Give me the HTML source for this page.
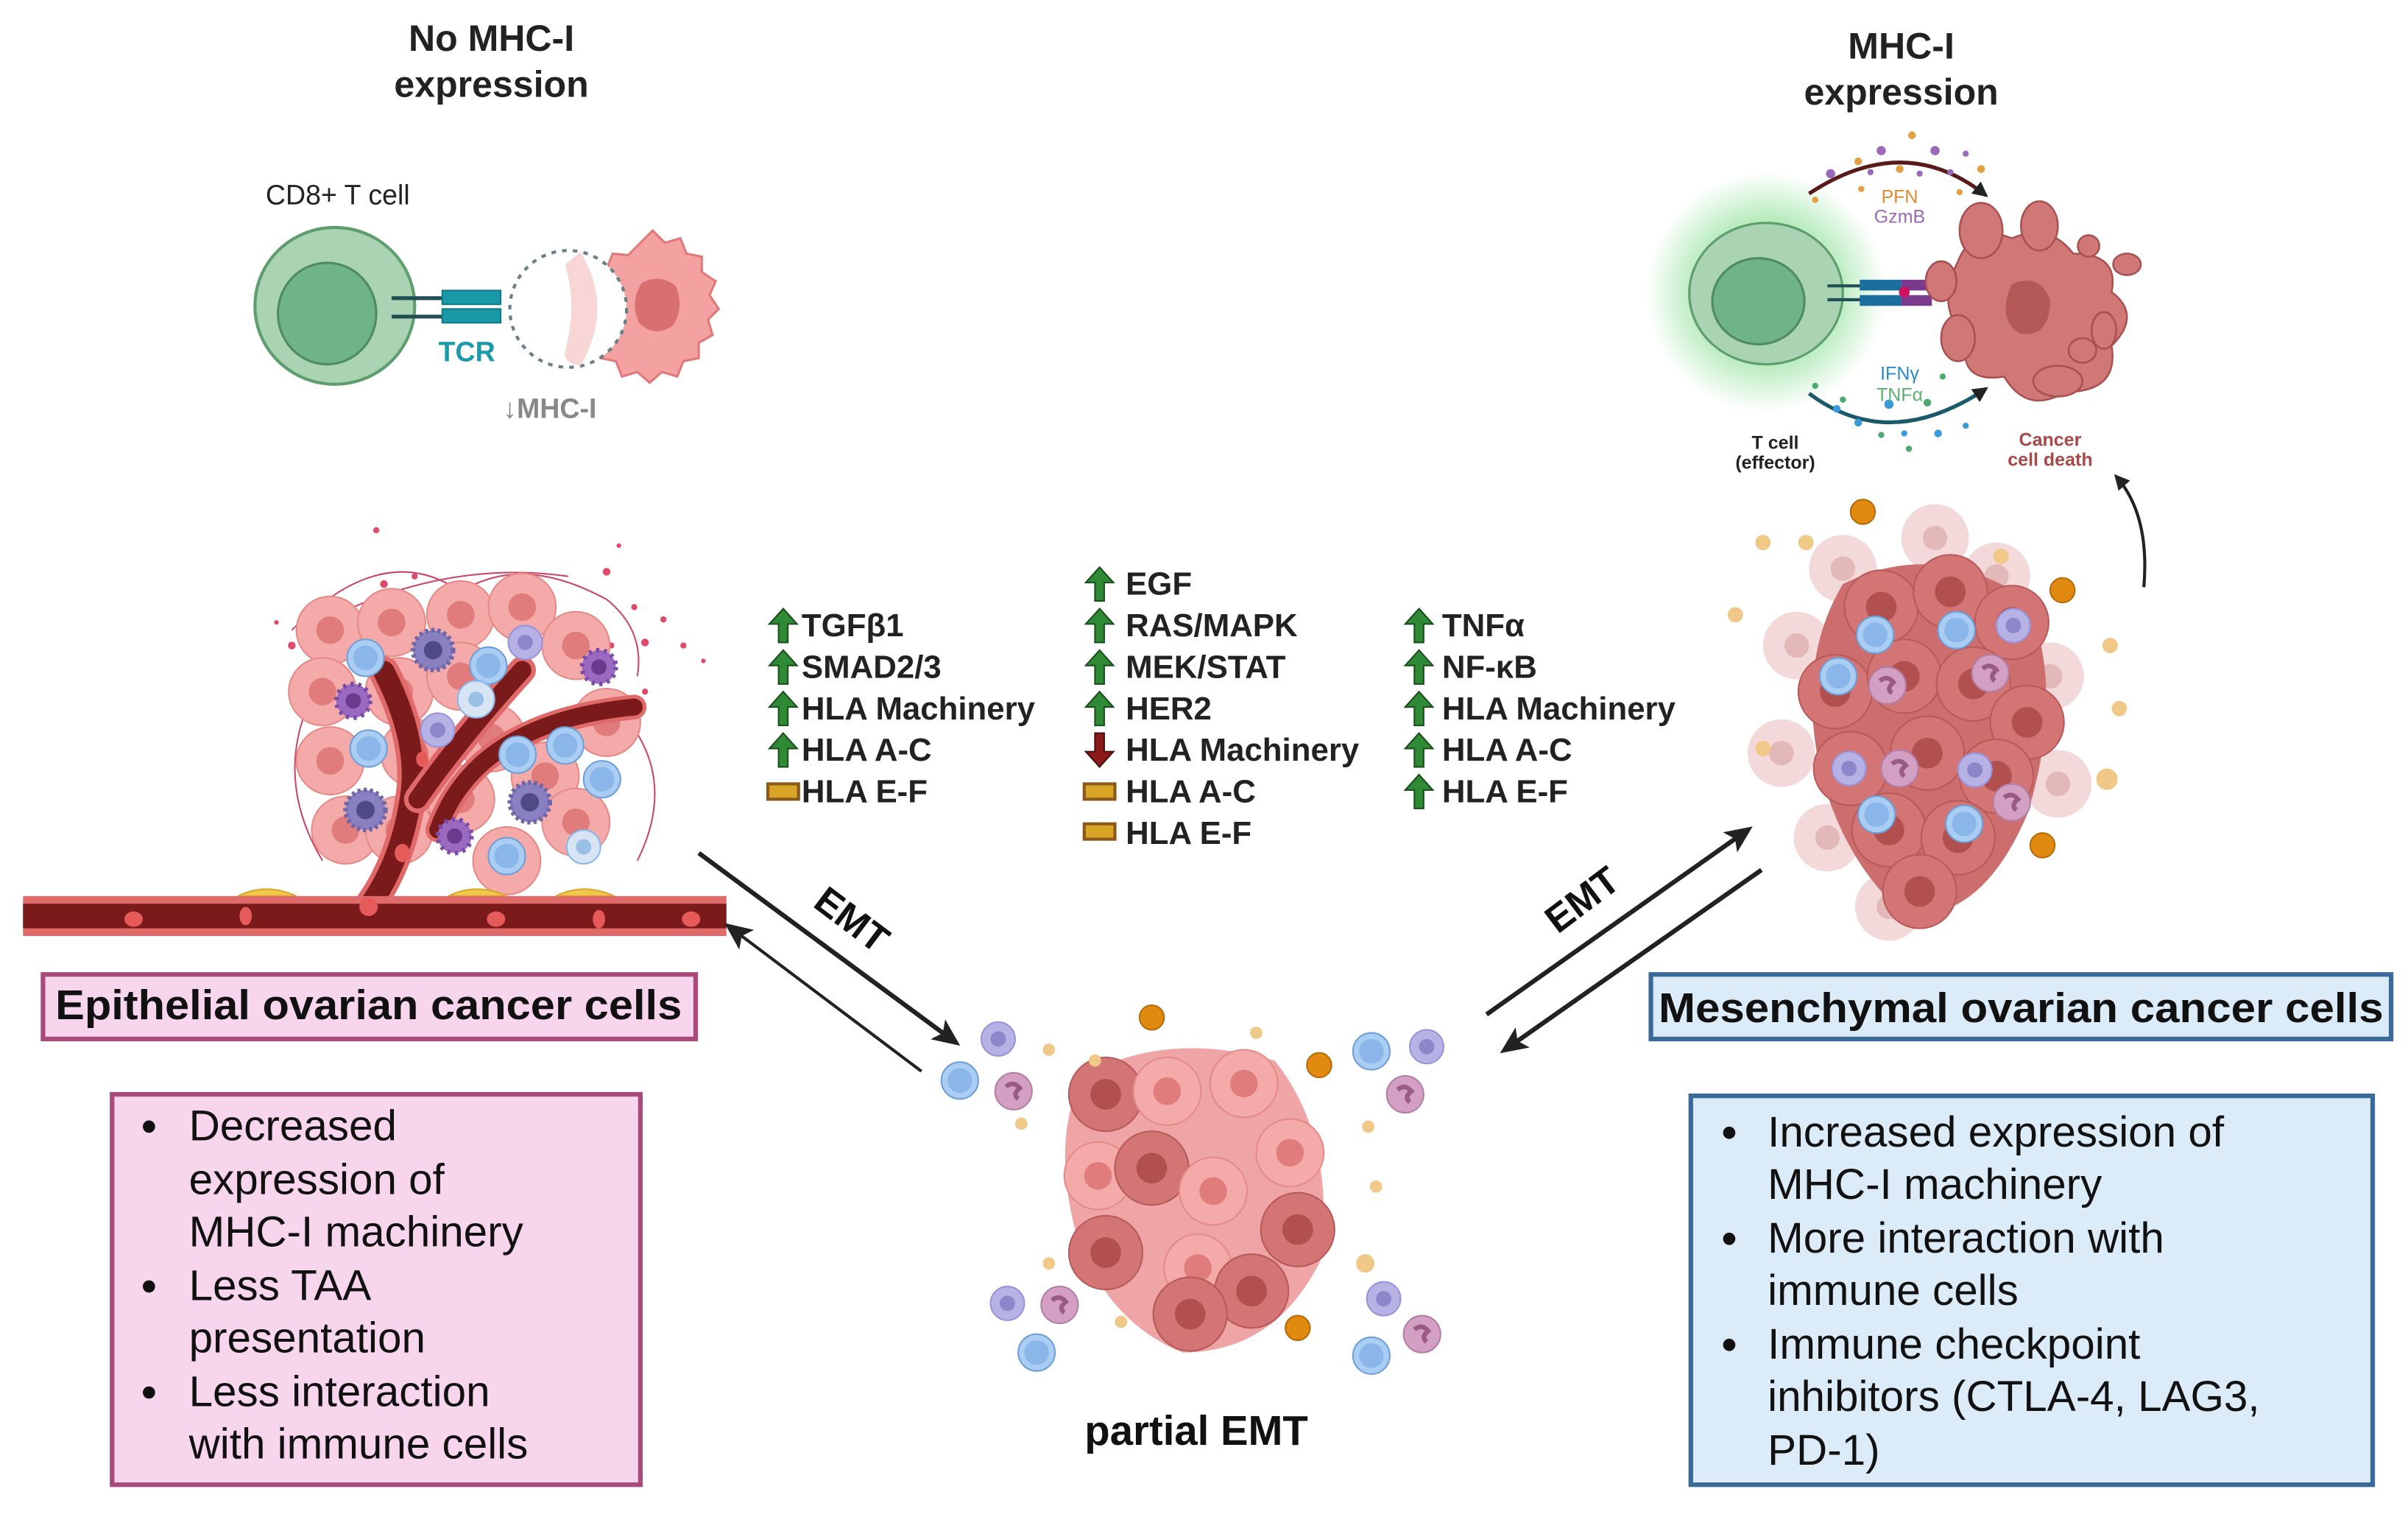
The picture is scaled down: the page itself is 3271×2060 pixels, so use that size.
<!DOCTYPE html>
<html><head><meta charset="utf-8"><style>
html,body{margin:0;padding:0;background:#fff;}
svg{display:block;}
text{font-family:"Liberation Sans",sans-serif;}
</style></head><body>
<svg width="3271" height="2060" viewBox="0 0 1568 987" preserveAspectRatio="none" xmlns="http://www.w3.org/2000/svg">
<defs>
<g id="up"><path d="M0,-11 L9,-1 L3,-1 L3,11 L-3,11 L-3,-1 L-9,-1 Z" fill="#2f8a35" stroke="#1b4d1e" stroke-width="1"/></g>
<g id="dn"><path d="M0,11 L9,1 L3,1 L3,-11 L-3,-11 L-3,1 L-9,1 Z" fill="#8b1a1a" stroke="#4d0d0d" stroke-width="1"/></g>
<g id="eq"><rect x="-10" y="-5" width="20" height="10" fill="#d9a526" stroke="#8b5a1a" stroke-width="2"/></g>
<g id="pc"><circle r="22" fill="#f4aaa8" stroke="#e58a88" stroke-width="1"/><circle r="9" fill="#e07c7c"/></g>
<g id="rc"><circle r="24" fill="#d47575" stroke="#b85a5a" stroke-width="1"/><circle r="10" fill="#b24f4f"/></g>
<g id="lc"><circle r="22" fill="#f0d0d0" opacity="0.8"/><circle r="8" fill="#e3b8b8"/></g>
<g id="bc"><circle r="12" fill="#a9cdf3" stroke="#6f9fd6" stroke-width="1"/><circle r="8" fill="#8bb6ea"/></g>
<g id="vc"><circle r="11" fill="#b7b2e6" stroke="#9a93d8" stroke-width="1"/><circle r="5" fill="#8d86c9"/></g>
<g id="nc"><circle r="12" fill="#d3a0c3" stroke="#b37ea5" stroke-width="1"/><path d="M-5,-3 Q0,-7 4,-2 Q-1,2 3,5" fill="none" stroke="#9a5a86" stroke-width="3"/></g>
<g id="sp"><circle r="13" fill="#8880c0" stroke="#6d65a8" stroke-width="3" stroke-dasharray="2 2"/><circle r="6" fill="#4f4a86"/></g>
<g id="pp"><circle r="11" fill="#9a6ac0" stroke="#7a4aa8" stroke-width="3" stroke-dasharray="2 3"/><circle r="5" fill="#6a3a8e"/></g>
<marker id="ah" markerWidth="10" markerHeight="10" refX="8" refY="5" orient="auto" markerUnits="userSpaceOnUse"><path d="M0,0 L10,5 L0,10 Z" fill="#222"/></marker>
<marker id="ah2" markerWidth="18" markerHeight="16" refX="14" refY="8" orient="auto" markerUnits="userSpaceOnUse"><path d="M0,0 L18,8 L0,16 L4,8 Z" fill="#222"/></marker>
<radialGradient id="glow"><stop offset="0.5" stop-color="#7fdc8a" stop-opacity="0.7"/><stop offset="1" stop-color="#7fdc8a" stop-opacity="0"/></radialGradient>
</defs>

<text x="320" y="33" font-size="24" font-weight="bold" text-anchor="middle" fill="#222">No MHC-I</text>
<text x="320" y="63" font-size="24" font-weight="bold" text-anchor="middle" fill="#222">expression</text>
<text x="173" y="133" font-size="18" fill="#222">CD8+ T cell</text>
<ellipse cx="218" cy="199" rx="52" ry="51" fill="#a9d3b2" stroke="#5e9d6c" stroke-width="2"/>
<ellipse cx="213" cy="204" rx="32" ry="33" fill="#6fb38a" stroke="#4e8a62" stroke-width="1.5"/>
<line x1="255" y1="194" x2="292" y2="194" stroke="#1f4f55" stroke-width="2.5"/>
<line x1="255" y1="206" x2="292" y2="206" stroke="#1f4f55" stroke-width="2.5"/>
<rect x="288" y="189" width="38" height="9" fill="#1a9aa8" stroke="#127a86"/>
<rect x="288" y="201" width="38" height="9" fill="#1a9aa8" stroke="#127a86"/>
<path d="M425,150 l8,8 l10,-3 l4,10 l10,2 l0,10 l9,6 l-4,9 l6,9 l-7,7 l3,10 l-9,5 l0,10 l-10,2 l-4,10 l-10,-3 l-8,7 l-8,-7 l-10,3 l-4,-10 l-10,-2 l-2,-10 l-8,-6 l4,-10 l-4,-10 l6,-8 l-1,-10 l9,-4 l4,-10 l10,1 Z" fill="#f4a1a1" stroke="#e07a7a" stroke-width="1.5"/>
<path d="M418,184 q12,-6 22,2 q6,14 -2,26 q-12,8 -22,-2 q-6,-14 2,-26Z" fill="#d87070"/>
<circle cx="370" cy="201" r="38" fill="#fff" stroke="#6a7f88" stroke-width="2" stroke-dasharray="3 4"/>
<path d="M378,164 q22,36 0,74 q-12,-2 -10,-10 q8,-28 0,-56 Z" fill="#f8d2d2" opacity="0.9"/>
<text x="304" y="235" font-size="18" font-weight="bold" text-anchor="middle" fill="#1a9aa8">TCR</text>
<text x="358" y="272" font-size="18" font-weight="bold" text-anchor="middle" fill="#888">↓MHC-I</text>

<text x="1238" y="38" font-size="24" font-weight="bold" text-anchor="middle" fill="#222">MHC-I</text>
<text x="1238" y="68" font-size="24" font-weight="bold" text-anchor="middle" fill="#222">expression</text>
<circle cx="1150" cy="190" r="78" fill="url(#glow)"/>
<ellipse cx="1150" cy="191" rx="50" ry="46" fill="#a9d3b2" stroke="#5e9d6c" stroke-width="1.5"/>
<ellipse cx="1145" cy="196" rx="30" ry="28" fill="#6fb38a" stroke="#4e8a62" stroke-width="1.5"/>
<line x1="1190" y1="186" x2="1215" y2="186" stroke="#1f4f55" stroke-width="2"/>
<line x1="1190" y1="195" x2="1215" y2="195" stroke="#1f4f55" stroke-width="2"/>
<rect x="1211" y="182" width="27" height="7" fill="#1a6f9e"/><rect x="1211" y="192" width="27" height="7" fill="#1a6f9e"/>
<rect x="1238" y="182" width="20" height="7" fill="#7a3a8e"/><rect x="1238" y="192" width="20" height="7" fill="#7a3a8e"/>
<circle cx="1240" cy="190" r="3.5" fill="#d0105a"/>
<g fill="#d07878" stroke="#a85050" stroke-width="1.2">
<path d="M1275,170 q10,-25 35,-15 q25,-10 40,10 q30,0 25,25 q20,15 0,35 q5,30 -30,30 q-25,15 -40,-10 q-30,5 -25,-25 q-20,-20 -5,-50Z"/>
<ellipse cx="1290" cy="150" rx="14" ry="18"/><ellipse cx="1328" cy="147" rx="12" ry="16"/>
<ellipse cx="1264" cy="183" rx="10" ry="13"/><ellipse cx="1360" cy="160" rx="7" ry="7"/>
<ellipse cx="1385" cy="172" rx="9" ry="7"/><ellipse cx="1370" cy="215" rx="8" ry="12"/>
<ellipse cx="1275" cy="220" rx="11" ry="15"/><ellipse cx="1340" cy="248" rx="16" ry="10"/><ellipse cx="1356" cy="228" rx="9" ry="8"/>
</g>
<path d="M1310,185 q18,-8 25,10 q0,25 -20,22 q-15,-10 -5,-32Z" fill="#b45858"/>
<path d="M1178,126 Q1240,85 1293,127" fill="none" stroke="#5a1a1a" stroke-width="2.5" marker-end="url(#ah)"/>
<path d="M1178,256 Q1230,295 1293,253" fill="none" stroke="#1a5a6a" stroke-width="2.5" marker-end="url(#ah)"/>
<g fill="#9a6ab8"><circle cx="1192" cy="113" r="3"/><circle cx="1225" cy="98" r="3"/><circle cx="1260" cy="98" r="3"/><circle cx="1280" cy="100" r="2"/><circle cx="1270" cy="112" r="2"/><circle cx="1250" cy="113" r="2"/><circle cx="1218" cy="112" r="2"/></g>
<g fill="#e2a040"><circle cx="1245" cy="88" r="2.5"/><circle cx="1210" cy="105" r="2.5"/><circle cx="1237" cy="110" r="2.5"/><circle cx="1290" cy="110" r="2.5"/><circle cx="1212" cy="123" r="2"/><circle cx="1182" cy="130" r="2"/><circle cx="1276" cy="125" r="2"/></g>
<g fill="#3a9ad8"><circle cx="1196" cy="266" r="2.5"/><circle cx="1230" cy="263" r="3"/><circle cx="1210" cy="275" r="2.5"/><circle cx="1240" cy="282" r="2"/><circle cx="1262" cy="282" r="2.5"/><circle cx="1280" cy="277" r="2"/></g>
<g fill="#4caa70"><circle cx="1182" cy="251" r="2"/><circle cx="1200" cy="260" r="2"/><circle cx="1225" cy="283" r="2"/><circle cx="1255" cy="262" r="2.5"/><circle cx="1243" cy="292" r="2"/><circle cx="1265" cy="245" r="2"/></g>
<text x="1237" y="132" font-size="12" text-anchor="middle" fill="#e08a30">PFN</text>
<text x="1237" y="145" font-size="12" text-anchor="middle" fill="#9a6ab8">GzmB</text>
<text x="1237" y="247" font-size="12" text-anchor="middle" fill="#2a8ac8">IFNγ</text>
<text x="1237" y="261" font-size="12" text-anchor="middle" fill="#5ab070">TNFα</text>
<text x="1156" y="292" font-size="12" font-weight="bold" text-anchor="middle" fill="#222">T cell</text>
<text x="1156" y="305" font-size="12" font-weight="bold" text-anchor="middle" fill="#222">(effector)</text>
<text x="1335" y="290" font-size="12" font-weight="bold" text-anchor="middle" fill="#a84848">Cancer</text>
<text x="1335" y="303" font-size="12" font-weight="bold" text-anchor="middle" fill="#a84848">cell death</text>
<path d="M1396,382 Q1400,335 1378,310" fill="none" stroke="#222" stroke-width="2" marker-end="url(#ah)"/>

<g fill="#e04a6a"><circle cx="245" cy="345" r="2"/><circle cx="250" cy="380" r="2.5"/><circle cx="230" cy="398" r="2"/><circle cx="190" cy="420" r="2.5"/><circle cx="210" cy="405" r="2"/><circle cx="180" cy="405" r="1.5"/><circle cx="395" cy="372" r="2.5"/><circle cx="413" cy="395" r="2"/><circle cx="420" cy="418" r="2.5"/><circle cx="432" cy="403" r="2"/><circle cx="445" cy="420" r="2"/><circle cx="458" cy="430" r="1.5"/><circle cx="398" cy="420" r="2"/><circle cx="403" cy="355" r="1.5"/><circle cx="270" cy="375" r="2"/><circle cx="420" cy="450" r="2"/></g>
<g stroke="#c84a6a" stroke-width="1" fill="none"><path d="M190,410 Q250,350 300,385 Q340,360 395,390 Q420,410 415,440"/><path d="M200,460 Q180,510 210,560"/><path d="M410,470 Q440,510 415,560"/><path d="M230,395 Q300,365 370,375"/></g>
<g>
<use href="#pc" x="215" y="410"/><use href="#pc" x="255" y="405"/><use href="#pc" x="300" y="400"/><use href="#pc" x="340" y="395"/><use href="#pc" x="375" y="420"/>
<use href="#pc" x="210" y="450"/><use href="#pc" x="260" y="450"/><use href="#pc" x="300" y="440"/><use href="#pc" x="395" y="470"/>
<use href="#pc" x="215" y="495"/><use href="#pc" x="270" y="490"/><use href="#pc" x="320" y="480"/><use href="#pc" x="355" y="505"/>
<use href="#pc" x="225" y="540"/><use href="#pc" x="300" y="520"/><use href="#pc" x="375" y="535"/><use href="#pc" x="330" y="560"/><use href="#pc" x="260" y="540"/>
</g>
<g fill="none" stroke-linecap="round">
<path d="M240,590 Q262,560 268,515 Q272,480 250,437" stroke="#e06a6a" stroke-width="20"/>
<path d="M240,590 Q262,560 268,515 Q272,480 250,437" stroke="#7a1a1a" stroke-width="14"/>
<path d="M272,520 Q300,480 340,436" stroke="#e06a6a" stroke-width="18"/>
<path d="M272,520 Q300,480 340,436" stroke="#7a1a1a" stroke-width="12"/>
<path d="M285,540 Q310,470 413,460" stroke="#e06a6a" stroke-width="16"/>
<path d="M285,540 Q310,470 413,460" stroke="#7a1a1a" stroke-width="11"/>
</g>
<g fill="#f0c84a" stroke="#d8a830"><path d="M155,583 Q173,574 193,583Z"/><path d="M292,583 Q310,574 330,583Z"/><path d="M362,583 Q380,574 400,583Z"/></g>
<rect x="15" y="583" width="458" height="26" fill="#e06a6a"/>
<rect x="15" y="588" width="458" height="16" fill="#7a1a1a"/>
<g fill="#e65a5a"><ellipse cx="87" cy="598" rx="6" ry="5"/><ellipse cx="160" cy="596" rx="4" ry="6"/><ellipse cx="240" cy="590" rx="6" ry="6"/><ellipse cx="323" cy="598" rx="6" ry="5"/><ellipse cx="390" cy="598" rx="4" ry="6"/><ellipse cx="450" cy="598" rx="6" ry="5"/><ellipse cx="262" cy="555" rx="5" ry="6"/><ellipse cx="275" cy="494" rx="4" ry="5"/></g>
<use href="#bc" x="238" y="428"/><use href="#bc" x="318" y="433"/><use href="#bc" x="240" y="487"/><use href="#bc" x="337" y="491"/><use href="#bc" x="368" y="485"/><use href="#bc" x="392" y="507"/><use href="#bc" x="330" y="557"/>
<g><circle cx="310" cy="455" r="12" fill="#d6e4f4" stroke="#8bb6ea"/><circle cx="310" cy="455" r="5" fill="#9ac0e6"/><circle cx="380" cy="551" r="11" fill="#d6e4f4" stroke="#8bb6ea"/><circle cx="380" cy="551" r="5" fill="#9ac0e6"/></g>
<use href="#vc" x="342" y="418"/><use href="#vc" x="285" y="475"/>
<use href="#sp" x="282" y="423"/><use href="#sp" x="238" y="527"/><use href="#sp" x="345" y="522"/>
<use href="#pp" x="230" y="456"/><use href="#pp" x="390" y="434"/><use href="#pp" x="296" y="544"/>

<g font-size="21" font-weight="bold" fill="#222">
<use href="#up" x="510" y="407"/><text x="522" y="414">TGFβ1</text>
<use href="#up" x="510" y="434"/><text x="522" y="441">SMAD2/3</text>
<use href="#up" x="510" y="461"/><text x="522" y="468">HLA Machinery</text>
<use href="#up" x="510" y="488"/><text x="522" y="495">HLA A-C</text>
<use href="#eq" x="510" y="515"/><text x="522" y="522">HLA E-F</text>
<use href="#up" x="716" y="380"/><text x="733" y="387">EGF</text>
<use href="#up" x="716" y="407"/><text x="733" y="414">RAS/MAPK</text>
<use href="#up" x="716" y="434"/><text x="733" y="441">MEK/STAT</text>
<use href="#up" x="716" y="461"/><text x="733" y="468">HER2</text>
<use href="#dn" x="716" y="488"/><text x="733" y="495">HLA Machinery</text>
<use href="#eq" x="716" y="515"/><text x="733" y="522">HLA A-C</text>
<use href="#eq" x="716" y="541"/><text x="733" y="549">HLA E-F</text>
<use href="#up" x="924" y="407"/><text x="939" y="414">TNFα</text>
<use href="#up" x="924" y="434"/><text x="939" y="441">NF-κB</text>
<use href="#up" x="924" y="461"/><text x="939" y="468">HLA Machinery</text>
<use href="#up" x="924" y="488"/><text x="939" y="495">HLA A-C</text>
<use href="#up" x="924" y="515"/><text x="939" y="522">HLA E-F</text>
</g>

<line x1="455" y1="555" x2="622" y2="678" stroke="#222" stroke-width="3" marker-end="url(#ah2)"/>
<line x1="600" y1="697" x2="475" y2="603" stroke="#222" stroke-width="2" marker-end="url(#ah2)"/>
<text x="555" y="607" font-size="25" font-weight="bold" text-anchor="middle" transform="rotate(37 555 598)" fill="#111">EMT</text>
<line x1="968" y1="660" x2="1138" y2="540" stroke="#222" stroke-width="3" marker-end="url(#ah2)"/>
<line x1="1147" y1="566" x2="980" y2="683" stroke="#222" stroke-width="3" marker-end="url(#ah2)"/>
<text x="1030" y="594" font-size="25" font-weight="bold" text-anchor="middle" transform="rotate(-37 1030 585)" fill="#111">EMT</text>

<use href="#lc" x="1200" y="370"/><use href="#lc" x="1300" y="375"/><use href="#lc" x="1170" y="420"/><use href="#lc" x="1335" y="440"/><use href="#lc" x="1160" y="490"/><use href="#lc" x="1340" y="510"/><use href="#lc" x="1190" y="545"/><use href="#lc" x="1230" y="590"/><use href="#lc" x="1260" y="350"/>
<path d="M1200,380 Q1260,350 1320,390 Q1345,450 1320,530 Q1290,600 1240,595 Q1200,560 1185,500 Q1170,430 1200,380Z" fill="#cc6e6e"/>
<use href="#rc" x="1225" y="395"/><use href="#rc" x="1270" y="385"/><use href="#rc" x="1310" y="405"/><use href="#rc" x="1195" y="450"/><use href="#rc" x="1240" y="440"/><use href="#rc" x="1285" y="445"/><use href="#rc" x="1320" y="470"/>
<use href="#rc" x="1205" y="500"/><use href="#rc" x="1255" y="490"/><use href="#rc" x="1300" y="505"/><use href="#rc" x="1230" y="540"/><use href="#rc" x="1275" y="545"/><use href="#rc" x="1250" y="580"/>
<use href="#bc" x="1221" y="413"/><use href="#bc" x="1274" y="410"/><use href="#bc" x="1197" y="440"/><use href="#bc" x="1222" y="530"/><use href="#bc" x="1279" y="536"/>
<use href="#vc" x="1311" y="407"/><use href="#vc" x="1204" y="500"/><use href="#vc" x="1286" y="501"/>
<use href="#nc" x="1229" y="446"/><use href="#nc" x="1296" y="438"/><use href="#nc" x="1237" y="500"/><use href="#nc" x="1310" y="522"/>
<g fill="#e08a10" stroke="#b86a08"><circle cx="1213" cy="333" r="8"/><circle cx="1343" cy="384" r="8"/><circle cx="1330" cy="550" r="8"/></g>
<g fill="#f0c888"><circle cx="1148" cy="353" r="5"/><circle cx="1176" cy="353" r="5"/><circle cx="1303" cy="362" r="5"/><circle cx="1130" cy="400" r="5"/><circle cx="1374" cy="420" r="5"/><circle cx="1380" cy="461" r="5"/><circle cx="1148" cy="487" r="5"/><circle cx="1372" cy="507" r="7"/></g>

<path d="M705,700 Q760,670 830,690 Q870,740 860,820 Q830,880 770,880 Q720,860 700,800 Q685,740 705,700Z" fill="#efa5a5"/>
<use href="#rc" x="720" y="712"/><use href="#pc" x="760" y="710"/><use href="#pc" x="810" y="705"/><use href="#pc" x="840" y="750"/>
<use href="#pc" x="715" y="765"/><use href="#rc" x="750" y="760"/><use href="#pc" x="790" y="775"/><use href="#rc" x="845" y="800"/>
<use href="#rc" x="720" y="815"/><use href="#pc" x="780" y="825"/><use href="#rc" x="815" y="840"/><use href="#rc" x="775" y="855"/>
<use href="#bc" x="625" y="703"/><use href="#bc" x="675" y="880"/><use href="#bc" x="893" y="684"/><use href="#bc" x="893" y="882"/>
<use href="#vc" x="650" y="676"/><use href="#vc" x="656" y="848"/><use href="#vc" x="929" y="681"/><use href="#vc" x="901" y="845"/>
<use href="#nc" x="660" y="710"/><use href="#nc" x="915" y="712"/><use href="#nc" x="690" y="849"/><use href="#nc" x="926" y="868"/>
<g fill="#e08a10" stroke="#b86a08"><circle cx="750" cy="662" r="8"/><circle cx="859" cy="693" r="8"/><circle cx="845" cy="864" r="8"/></g>
<g fill="#f0c888"><circle cx="683" cy="683" r="4"/><circle cx="713" cy="690" r="4"/><circle cx="818" cy="672" r="4"/><circle cx="665" cy="731" r="4"/><circle cx="891" cy="733" r="4"/><circle cx="896" cy="772" r="4"/><circle cx="683" cy="822" r="4"/><circle cx="889" cy="822" r="6"/><circle cx="730" cy="860" r="4"/></g>
<text x="779" y="940" font-size="27" font-weight="bold" text-anchor="middle" fill="#111">partial EMT</text>

<rect x="28" y="634" width="425" height="42" fill="#f7d5ec" stroke="#a84a7a" stroke-width="3"/>
<text x="240" y="663" font-size="27" font-weight="bold" text-anchor="middle" textLength="408" lengthAdjust="spacingAndGlyphs" fill="#111">Epithelial ovarian cancer cells</text>
<rect x="1075" y="634" width="482" height="42" fill="#dcebf8" stroke="#3a6a9a" stroke-width="3"/>
<text x="1316" y="665" font-size="27" font-weight="bold" text-anchor="middle" textLength="472" lengthAdjust="spacingAndGlyphs" fill="#111">Mesenchymal ovarian cancer cells</text>

<rect x="73" y="712" width="344" height="254" fill="#f7d5ec" stroke="#a84a7a" stroke-width="3"/>
<g font-size="28" fill="#111">
<circle cx="97" cy="733" r="4" fill="#111"/><text x="123" y="742">Decreased</text>
<text x="123" y="777">expression of</text><text x="123" y="811">MHC-I machinery</text>
<circle cx="97" cy="837" r="4" fill="#111"/><text x="123" y="846">Less TAA</text>
<text x="123" y="880">presentation</text>
<circle cx="97" cy="906" r="4" fill="#111"/><text x="123" y="915">Less interaction</text>
<text x="123" y="949">with immune cells</text>
</g>
<rect x="1101" y="713" width="444" height="253" fill="#dcebf8" stroke="#3a6a9a" stroke-width="3"/>
<g font-size="28" fill="#111">
<circle cx="1126" cy="737" r="4" fill="#111"/><text x="1151" y="746">Increased expression of</text>
<text x="1151" y="780">MHC-I machinery</text>
<circle cx="1126" cy="806" r="4" fill="#111"/><text x="1151" y="815">More interaction with</text>
<text x="1151" y="849">immune cells</text>
<circle cx="1126" cy="875" r="4" fill="#111"/><text x="1151" y="884">Immune checkpoint</text>
<text x="1151" y="918">inhibitors (CTLA-4, LAG3,</text>
<text x="1151" y="953">PD-1)</text>
</g>
</svg>
</body></html>
